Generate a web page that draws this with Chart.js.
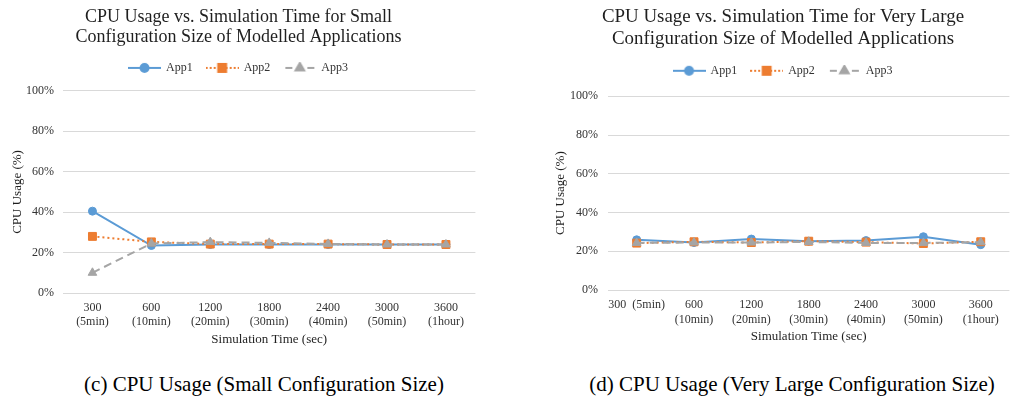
<!DOCTYPE html>
<html>
<head>
<meta charset="utf-8">
<script src="https://cdn.jsdelivr.net/npm/chart.js@4/dist/chart.umd.min.js"></script>
<style>
  html, body { margin: 0; padding: 0; background: #fff; width: 1011px; height: 397px; overflow: hidden; position: relative; }
  canvas { position: absolute; top: 0; }
  #cpuSmall { left: 0; }
  #cpuLarge { left: 550px; }
  .caption {
    position: absolute; top: 373px; white-space: nowrap; transform: translateX(-50%);
    font-family: 'Liberation Serif', 'Times New Roman', serif; font-size: 21px; line-height: 22px; color: #000;
  }
</style>
</head>
<body>
<canvas id="cpuSmall" width="482" height="355"></canvas>
<canvas id="cpuLarge" width="466" height="355"></canvas>
<div class="caption" style="left:264px">(c) CPU Usage (Small Configuration Size)</div>
<div class="caption" style="left:792px">(d) CPU Usage (Very Large Configuration Size)</div>
<script>
// ---- data ----
const seriesNames = ['App1', 'App2', 'App3'];
const timeLabelsSmall = [['300', '(5min)'], ['600', '(10min)'], ['1200', '(20min)'], ['1800', '(30min)'],
                         ['2400', '(40min)'], ['3000', '(50min)'], ['3600', '(1hour)']];
const timeLabelsLarge = ['300  (5min)', ['600', '(10min)'], ['1200', '(20min)'], ['1800', '(30min)'],
                         ['2400', '(40min)'], ['3000', '(50min)'], ['3600', '(1hour)']];
const usageTicks = [0, 20, 40, 60, 80, 100];

// CPU usage (%) – small configuration
const smallApp1 = [40.5, 23.5, 24.0, 24.0, 24.0, 24.0, 24.0];
const smallApp2 = [28.0, 25.3, 24.2, 24.2, 24.2, 24.0, 24.0];
const smallApp3 = [10.0, 24.5, 25.2, 24.8, 24.3, 24.0, 24.0];

// CPU usage (%) – very large configuration
const largeApp1 = [25.9, 24.5, 26.3, 25.2, 25.5, 27.5, 23.4];
const largeApp2 = [24.2, 24.9, 24.5, 25.2, 24.7, 24.0, 24.9];
const largeApp3 = [24.3, 24.5, 24.5, 24.8, 24.3, 24.3, 24.7];

// ---- styling ----
const SERIF = "'Liberation Serif', 'Times New Roman', serif";
const COLORS = ['#5B9BD5', '#ED7D31', '#A5A5A5'];
const TEXT = '#333333';
const HEAD = '#1f1f1f';

Chart.defaults.font.family = SERIF;
Chart.defaults.color = TEXT;

// Small legend glyphs: line sample with the series marker in the middle
function legendIcon(idx) {
  const c = document.createElement('canvas');
  c.width = 33; c.height = 12;
  const g = c.getContext('2d');
  const col = COLORS[idx];
  g.strokeStyle = col; g.fillStyle = col; g.lineWidth = 2;
  g.beginPath();
  if (idx === 0) {
    g.moveTo(0, 6); g.lineTo(33, 6); g.stroke();
  } else if (idx === 1) {
    g.setLineDash([2, 2]);
    g.moveTo(0, 6); g.lineTo(33, 6); g.stroke();
    g.setLineDash([]);
  } else {
    g.moveTo(2, 6); g.lineTo(9, 6); g.moveTo(24, 6); g.lineTo(31, 6); g.stroke();
  }
  const style = ['circle', 'rect', 'triangle'][idx];
  const radius = [4, 5.6, 5][idx];
  Chart.helpers.drawPoint(g, { pointStyle: style, radius: radius, borderWidth: 1, rotation: 0 }, 16.5, 6);
  g.fill();
  return c;
}
const icons = [0, 1, 2].map(legendIcon);

function makeDatasets(values) {
  const dashes = [[], [2, 3], [8, 5]];
  const styles = ['circle', 'rect', 'triangle'];
  const radii = [4, 5.6, 5];
  return values.map((v, i) => ({
    label: seriesNames[i],
    data: v,
    borderColor: COLORS[i],
    backgroundColor: COLORS[i],
    borderWidth: 2,
    borderDash: dashes[i],
    pointStyle: styles[i],
    pointRadius: radii[i],
    pointBorderWidth: 1,
    pointBorderColor: COLORS[i],
    pointBackgroundColor: COLORS[i],
    tension: 0,
    fill: false,
    order: 2 - i
  }));
}

function makeChart(id, cfg) {
  return new Chart(document.getElementById(id), {
    type: 'line',
    data: { labels: cfg.labels, datasets: makeDatasets(cfg.values) },
    options: {
      responsive: false,
      animation: false,
      events: [],
      layout: { padding: { left: 0, right: cfg.padRight, top: 0, bottom: 0 } },
      plugins: {
        title: {
          display: true,
          text: cfg.title,
          color: HEAD,
          font: { family: SERIF, size: cfg.titleSize, weight: 'normal', lineHeight: cfg.titleLH },
          padding: { top: cfg.titleTop, bottom: 0 }
        },
        legend: {
          display: true,
          position: 'top',
          labels: {
            usePointStyle: true,
            pointStyleWidth: 31,
            boxHeight: 12,
            padding: 14,
            color: TEXT,
            font: { family: SERIF, size: 12 },
            generateLabels: (chart) => chart.data.datasets.map((ds, i) => ({
              text: ds.label,
              pointStyle: icons[i],
              datasetIndex: i,
              fillStyle: ds.borderColor,
              strokeStyle: ds.borderColor,
              lineWidth: 0,
              fontColor: TEXT,
              hidden: !chart.isDatasetVisible(i)
            }))
          }
        },
        subtitle: {
          display: true,
          text: ' ',
          weight: 500,
          font: { size: 1, lineHeight: 1 },
          padding: { top: 0, bottom: cfg.gap }
        },
        tooltip: { enabled: false }
      },
      scales: {
        x: {
          type: 'category',
          offset: true,
          grid: { display: false, drawTicks: false },
          border: { display: false },
          ticks: { color: TEXT, font: { family: SERIF, size: 12, lineHeight: cfg.tickLH }, padding: cfg.xTickPad,
                   maxRotation: 0, minRotation: 0, autoSkip: false },
          title: { display: true, text: 'Simulation Time (sec)', color: HEAD,
                   font: { family: SERIF, size: 13, lineHeight: 1.15 }, padding: { top: 0, bottom: cfg.xTitlePad } },
          afterFit: (s) => { s.height = cfg.xHeight; }
        },
        y: {
          min: 0, max: 100,
          afterBuildTicks: (s) => { s.ticks = usageTicks.map(v => ({ value: v })); },
          grid: { color: '#d9d9d9', lineWidth: 1, drawTicks: false },
          border: { display: false },
          ticks: { color: TEXT, font: { family: SERIF, size: 12 }, padding: cfg.yTickPad,
                   callback: (v) => v + '%' },
          title: { display: true, text: 'CPU Usage (%)', color: HEAD,
                   font: { family: SERIF, size: 13, lineHeight: 1.15 }, padding: { top: cfg.yTitlePad, bottom: 0 } },
          afterFit: (s) => { s.width = cfg.yWidth; }
        }
      }
    }
  });
}

makeChart('cpuSmall', {
  labels: timeLabelsSmall,
  values: [smallApp1, smallApp2, smallApp3],
  title: ['CPU Usage vs. Simulation Time for Small', 'Configuration Size of Modelled Applications'],
  titleSize: 18, titleLH: 1.15, titleTop: 6.5, gap: 6, padRight: 5,
  xHeight: 62, xTickPad: 8, tickLH: 1.17, xTitlePad: 7.5,
  yWidth: 63, yTickPad: 9, yTitlePad: 10
});

makeChart('cpuLarge', {
  labels: timeLabelsLarge,
  values: [largeApp1, largeApp2, largeApp3],
  title: ['CPU Usage vs. Simulation Time for Very Large', 'Configuration Size of Modelled Applications'],
  titleSize: 18.9, titleLH: 1.19, titleTop: 5.8, gap: 8.5, padRight: 0,
  xHeight: 65, xTickPad: 7.5, tickLH: 1.25, xTitlePad: 10.5,
  yWidth: 58, yTickPad: 10, yTitlePad: 3.5
});
</script>
</body>
</html>
